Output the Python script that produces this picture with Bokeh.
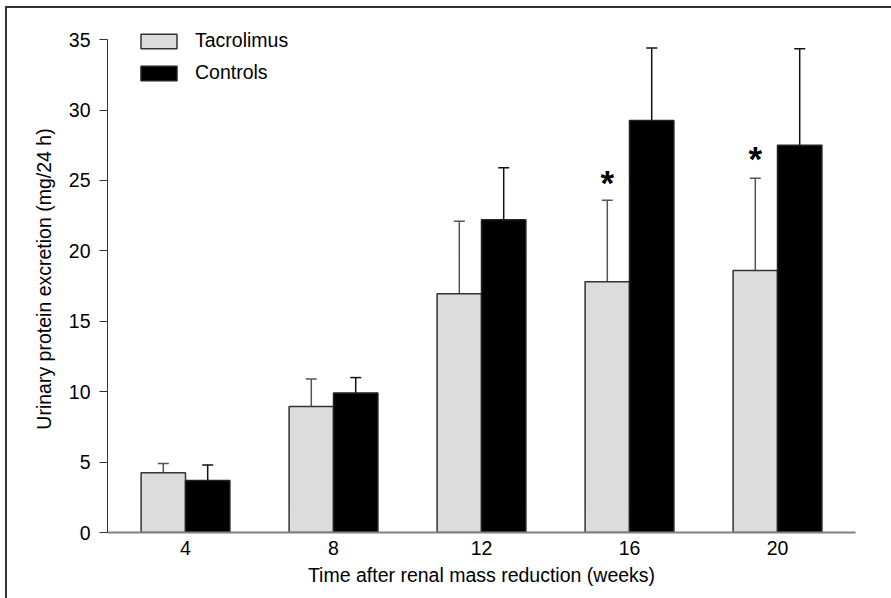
from bokeh.plotting import figure
from bokeh.models import (ColumnDataSource, Range1d, FixedTicker, Whisker, TeeHead,
                          Legend, LegendItem)
from bokeh.core.properties import value
from bokeh.embed import file_html
from bokeh.resources import INLINE

# ---- data ----
weeks = [4, 8, 12, 16, 20]
tacrolimus = [4.25, 8.95, 16.95, 17.8, 18.6]
tacrolimus_upper = [4.9, 10.9, 22.1, 23.6, 25.15]
controls = [3.7, 9.9, 22.2, 29.25, 27.5]
controls_upper = [4.8, 11.0, 25.9, 34.4, 34.35]
star_weeks = [16, 20]
star_y = [25.0, 26.7]
y_ticks = [0, 5, 10, 15, 20, 25, 30, 35]

FONT = "Liberation Sans"
FS = "19.5px"
bar_w = 1.2
off = bar_w / 2

src_t = ColumnDataSource(dict(x=[w - off for w in weeks], top=tacrolimus, upper=tacrolimus_upper))
src_c = ColumnDataSource(dict(x=[w + off for w in weeks], top=controls, upper=controls_upper))
src_s = ColumnDataSource(dict(x=[w - off for w in star_weeks], y=star_y, t=["*"] * len(star_weeks)))

p = figure(width=891, height=598, output_backend="svg", toolbar_location=None,
           x_range=Range1d(1.892, 22.108), y_range=Range1d(0, 36.0),
           min_border_left=107, min_border_right=36, min_border_top=25, min_border_bottom=66,
           styles={"background": "linear-gradient(#333,#333) 5px 6px / 2px 100% no-repeat, "
                                 "linear-gradient(#333,#333) 5px 6px / 100% 2px no-repeat, white"})
p.border_fill_alpha = 0
p.background_fill_color = "white"
p.outline_line_color = None
p.xgrid.visible = False
p.ygrid.visible = False

rt = p.vbar(x="x", top="top", width=bar_w, source=src_t, fill_color="#dcdcdc",
            line_color="#333333", line_width=1.5)
rc = p.vbar(x="x", top="top", width=bar_w, source=src_c, fill_color="#000000",
            line_color="#222222", line_width=1.5)

for src, col in ((src_t, "#555555"), (src_c, "#111111")):
    w = Whisker(base="x", lower="top", upper="upper", source=src, line_color=col, line_width=1.5,
                upper_head=TeeHead(size=11, line_color=col, line_width=1.5), lower_head=None)
    p.add_layout(w)

p.text(x="x", y="y", text="t", source=src_s, text_font=value(FONT), text_font_size="35px",
       text_font_style="bold", text_align="center", text_baseline="middle", text_color="black",
       y_offset=2)

# axes
p.xaxis.ticker = FixedTicker(ticks=weeks)
p.xaxis.major_tick_line_color = None
p.xaxis.minor_tick_line_color = None
p.xaxis.axis_line_color = "#808080"
p.xaxis.axis_line_width = 2
p.xaxis.major_label_standoff = 2
p.xaxis.axis_label = "Time after renal mass reduction (weeks)"
p.xaxis.axis_label_standoff = 6

p.yaxis.ticker = FixedTicker(ticks=y_ticks)
p.yaxis.bounds = (0, 35)
p.yaxis.minor_tick_line_color = None
p.yaxis.major_tick_in = 0
p.yaxis.major_tick_out = 8
p.yaxis.major_tick_line_color = "#333333"
p.yaxis.axis_line_color = "#333333"
p.yaxis.major_label_standoff = 9
p.yaxis.axis_label = "Urinary protein excretion (mg/24 h)"
p.yaxis.axis_label_standoff = 11

for ax in (p.xaxis[0], p.yaxis[0]):
    ax.major_label_text_font = FONT
    ax.major_label_text_font_size = FS
    ax.major_label_text_color = "black"
    ax.axis_label_text_font = FONT
    ax.axis_label_text_font_size = FS
    ax.axis_label_text_font_style = "normal"
    ax.axis_label_text_color = "black"

legend = Legend(items=[LegendItem(label="Tacrolimus", renderers=[rt]),
                       LegendItem(label="Controls", renderers=[rc])],
                location=(29, 448), orientation="vertical",
                glyph_width=45, glyph_height=18, label_height=18, spacing=9,
                label_standoff=14, padding=0, margin=0,
                border_line_color=None, background_fill_alpha=0,
                label_text_font=FONT, label_text_font_size=FS, label_text_color="black")
p.add_layout(legend)

open("out.html", "w").write(file_html(p, INLINE))
